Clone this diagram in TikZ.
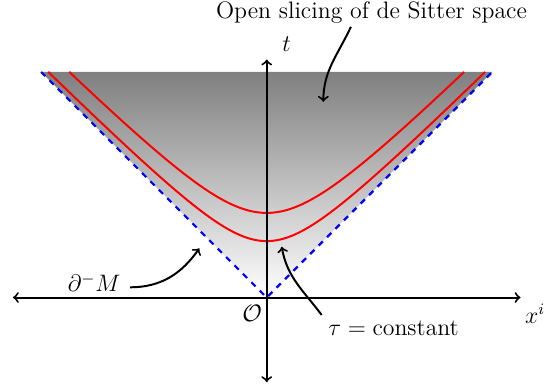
\documentclass[tikz,border=0pt,12pt]{standalone}
\tikzset{
  axis/.style={line width=1pt,<->},
  cone/.style={blue,line width=1.1pt,dashed},
  slice/.style={red,line width=1pt,smooth,samples=120},
  pointer/.style={line width=1pt,->},
  lbl/.style={anchor=base,inner sep=0pt}
}
\begin{document}
\begin{tikzpicture}
\useasboundingbox (-4.729,-1.640) rectangle (4.934,5.275);
\shade[top color=black!50,bottom color=white] (-4,4) -- (4,4) -- (0,0) -- cycle;
\coordinate (O) at (0,0);
\coordinate (cl) at (-4,4);
\coordinate (cr) at (4,4);
\draw[cone] (cl) -- (O) -- (cr);
\draw[slice,domain=-3.873:3.873] plot (\x,{sqrt(\x*\x+1)});
\draw[slice,domain=-3.5:3.5] plot (\x,{sqrt(\x*\x+1.44)+0.3});
\coordinate (xl) at (-4.5,0);
\coordinate (xr) at (4.5,0);
\coordinate (tb) at (0,-1.5);
\coordinate (tt) at (0,4.22);
\draw[axis] (xl) -- (xr);
\draw[axis] (tb) -- (tt);
\node[lbl] (tlab) at (0.35,4.36) {$t$};
\node[lbl] (xlab) at (4.76,-0.46) {$x^i$};
\node[lbl] (olab) at (-0.26,-0.42) {$\mathcal{O}$};
\node[lbl] (title) at (1.858,4.95) {Open slicing of de Sitter space};
\node[lbl] (bdry) at (-3.06,0.103) {$\partial^{-}M$};
\node[lbl] (tau) at (2.25,-0.665) {$\tau = \mathrm{constant}$};
\coordinate (a1s) at (1.493,4.80);
\coordinate (a1e) at (1.004,3.47);
\coordinate (a2s) at (-2.424,0.181);
\coordinate (a2e) at (-1.195,0.872);
\coordinate (a3s) at (0.975,-0.31);
\coordinate (a3e) at (0.266,0.90);
\draw[pointer] (a1s) to[out=-115,in=90] (a1e);
\draw[pointer] (a2s) to[out=0,in=-125] (a2e);
\draw[pointer] (a3s) to[out=127,in=-80] (a3e);
\end{tikzpicture}
\end{document}
